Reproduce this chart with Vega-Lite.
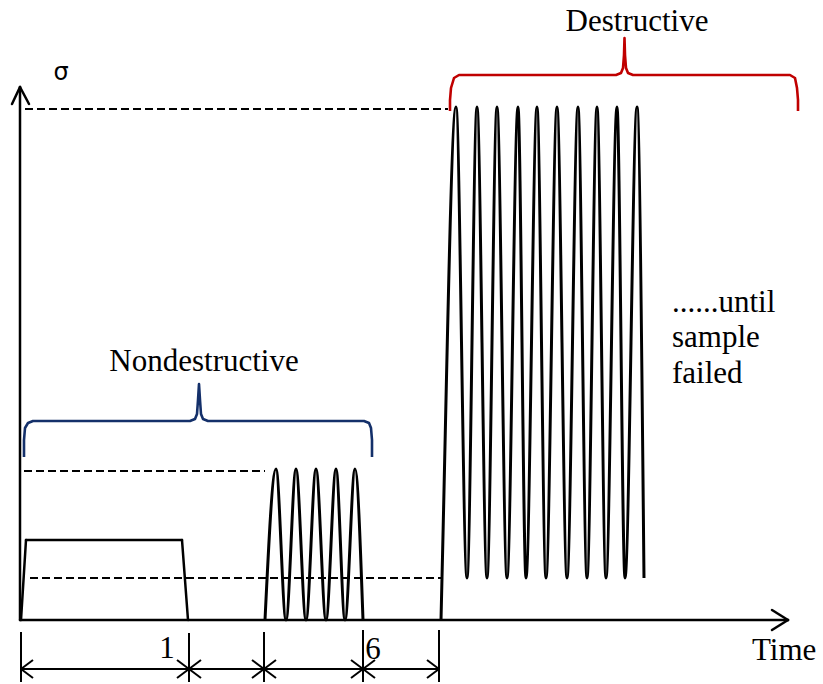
{
  "$schema": "https://vega.github.io/schema/vega-lite/v6.json",
  "width": 823,
  "height": 684,
  "autosize": {"type": "fit", "contains": "padding"},
  "padding": 0,
  "background": "white",
  "config": {"view": {"stroke": null}},
  "datasets": {
    "solid": [
      {"x": 20, "y": 0, "x2": 20, "y2": 533},
      {"x": 20, "y": 533, "x2": 12, "y2": 516},
      {"x": 20, "y": 533, "x2": 29, "y2": 516},
      {"x": 20, "y": 0, "x2": 788, "y2": 0},
      {"x": 788, "y": 0, "x2": 772, "y2": 10},
      {"x": 788, "y": 0, "x2": 772, "y2": -10},
      {"x": 21, "y": 0, "x2": 26, "y2": 80},
      {"x": 26, "y": 80, "x2": 182, "y2": 80},
      {"x": 182, "y": 80, "x2": 188, "y2": 0}
    ],
    "dims": [
      {"x": 21, "y": -12, "x2": 21, "y2": -62},
      {"x": 189, "y": -13, "x2": 189, "y2": -62},
      {"x": 264, "y": -12, "x2": 264, "y2": -62},
      {"x": 363, "y": -10, "x2": 363, "y2": -62},
      {"x": 439, "y": -10, "x2": 439, "y2": -62},
      {"x": 21, "y": -49, "x2": 439, "y2": -49},
      {"x": 21, "y": -49, "x2": 33, "y2": -40},
      {"x": 21, "y": -49, "x2": 33, "y2": -58},
      {"x": 189, "y": -49, "x2": 177, "y2": -40},
      {"x": 189, "y": -49, "x2": 177, "y2": -58},
      {"x": 189, "y": -49, "x2": 201, "y2": -40},
      {"x": 189, "y": -49, "x2": 201, "y2": -58},
      {"x": 264, "y": -49, "x2": 252, "y2": -40},
      {"x": 264, "y": -49, "x2": 252, "y2": -58},
      {"x": 264, "y": -49, "x2": 276, "y2": -40},
      {"x": 264, "y": -49, "x2": 276, "y2": -58},
      {"x": 363, "y": -49, "x2": 351, "y2": -40},
      {"x": 363, "y": -49, "x2": 351, "y2": -58},
      {"x": 363, "y": -49, "x2": 375, "y2": -40},
      {"x": 363, "y": -49, "x2": 375, "y2": -58},
      {"x": 439, "y": -49, "x2": 427, "y2": -40},
      {"x": 439, "y": -49, "x2": 427, "y2": -58}
    ],
    "dashed": [
      {"x": 25, "y": 511, "x2": 448, "y2": 511},
      {"x": 24, "y": 149, "x2": 265, "y2": 149},
      {"x": 30, "y": 42, "x2": 441, "y2": 42}
    ],
    "waves": [
      {"series": "block", "x": 265, "y": 0},
      {"series": "block", "x": 276, "y": 151},
      {"series": "block", "x": 286, "y": 0},
      {"series": "block", "x": 296, "y": 151},
      {"series": "block", "x": 306, "y": 0},
      {"series": "block", "x": 316, "y": 151},
      {"series": "block", "x": 326, "y": 0},
      {"series": "block", "x": 336, "y": 151},
      {"series": "block", "x": 345, "y": 0},
      {"series": "block", "x": 355, "y": 151},
      {"series": "block", "x": 363, "y": 0},
      {"series": "destructive", "x": 441, "y": 0},
      {"series": "destructive", "x": 442, "y": 42},
      {"series": "destructive", "x": 456, "y": 513},
      {"series": "destructive", "x": 467, "y": 42},
      {"series": "destructive", "x": 477, "y": 513},
      {"series": "destructive", "x": 487, "y": 42},
      {"series": "destructive", "x": 497, "y": 513},
      {"series": "destructive", "x": 507, "y": 42},
      {"series": "destructive", "x": 518, "y": 513},
      {"series": "destructive", "x": 526, "y": 42},
      {"series": "destructive", "x": 537, "y": 513},
      {"series": "destructive", "x": 546, "y": 42},
      {"series": "destructive", "x": 557, "y": 513},
      {"series": "destructive", "x": 567, "y": 42},
      {"series": "destructive", "x": 578, "y": 513},
      {"series": "destructive", "x": 587, "y": 42},
      {"series": "destructive", "x": 597, "y": 513},
      {"series": "destructive", "x": 606, "y": 42},
      {"series": "destructive", "x": 617, "y": 513},
      {"series": "destructive", "x": 625, "y": 42},
      {"series": "destructive", "x": 637, "y": 513},
      {"series": "destructive", "x": 644, "y": 42}
    ],
    "braces": [
      {"group": "Nondestructive", "i": 1, "x": 24, "y": 163},
      {"group": "Nondestructive", "i": 2, "x": 24, "y": 180},
      {"group": "Nondestructive", "i": 3, "x": 25, "y": 192},
      {"group": "Nondestructive", "i": 4, "x": 28, "y": 197},
      {"group": "Nondestructive", "i": 5, "x": 33, "y": 199},
      {"group": "Nondestructive", "i": 6, "x": 190, "y": 199},
      {"group": "Nondestructive", "i": 7, "x": 195, "y": 201},
      {"group": "Nondestructive", "i": 8, "x": 197, "y": 206},
      {"group": "Nondestructive", "i": 9, "x": 198, "y": 220},
      {"group": "Nondestructive", "i": 10, "x": 199, "y": 236},
      {"group": "Nondestructive", "i": 11, "x": 200, "y": 220},
      {"group": "Nondestructive", "i": 12, "x": 201, "y": 206},
      {"group": "Nondestructive", "i": 13, "x": 203, "y": 201},
      {"group": "Nondestructive", "i": 14, "x": 208, "y": 199},
      {"group": "Nondestructive", "i": 15, "x": 364, "y": 199},
      {"group": "Nondestructive", "i": 16, "x": 369, "y": 197},
      {"group": "Nondestructive", "i": 17, "x": 371, "y": 192},
      {"group": "Nondestructive", "i": 18, "x": 372, "y": 180},
      {"group": "Nondestructive", "i": 19, "x": 372, "y": 163},
      {"group": "Destructive", "i": 1, "x": 450, "y": 509},
      {"group": "Destructive", "i": 2, "x": 450, "y": 520},
      {"group": "Destructive", "i": 3, "x": 451, "y": 532},
      {"group": "Destructive", "i": 4, "x": 454, "y": 542},
      {"group": "Destructive", "i": 5, "x": 459, "y": 545},
      {"group": "Destructive", "i": 6, "x": 616, "y": 545},
      {"group": "Destructive", "i": 7, "x": 621, "y": 547},
      {"group": "Destructive", "i": 8, "x": 623, "y": 552},
      {"group": "Destructive", "i": 9, "x": 624, "y": 565},
      {"group": "Destructive", "i": 10, "x": 624.5, "y": 582},
      {"group": "Destructive", "i": 11, "x": 625, "y": 565},
      {"group": "Destructive", "i": 12, "x": 626, "y": 552},
      {"group": "Destructive", "i": 13, "x": 628, "y": 547},
      {"group": "Destructive", "i": 14, "x": 633, "y": 545},
      {"group": "Destructive", "i": 15, "x": 790, "y": 545},
      {"group": "Destructive", "i": 16, "x": 795, "y": 542},
      {"group": "Destructive", "i": 17, "x": 797, "y": 532},
      {"group": "Destructive", "i": 18, "x": 798, "y": 520},
      {"group": "Destructive", "i": 19, "x": 798, "y": 509}
    ],
    "centered": [
      {"label": "Destructive", "x": 637, "y": 589},
      {"label": "Nondestructive", "x": 204, "y": 249},
      {"label": "1", "x": 167, "y": -38},
      {"label": "6", "x": 373, "y": -39}
    ],
    "leftText": [
      {"label": "Time", "x": 752, "y": -40},
      {"label": "......until", "x": 672, "y": 308},
      {"label": "sample", "x": 672, "y": 273},
      {"label": "failed", "x": 672, "y": 237}
    ],
    "symbol": [
      {"label": "σ", "x": 61, "y": 540}
    ]
  },
  "encoding": {
    "x": {"field": "x", "type": "quantitative", "scale": {"domain": [0, 823], "nice": false, "zero": false}, "axis": null},
    "y": {"field": "y", "type": "quantitative", "scale": {"domain": [-64, 620], "nice": false, "zero": false}, "axis": null}
  },
  "layer": [
    {
      "data": {"name": "dashed"},
      "mark": {"type": "rule", "color": "black", "strokeWidth": 2, "strokeDash": [8, 4]},
      "encoding": {"x2": {"field": "x2"}, "y2": {"field": "y2"}}
    },
    {
      "data": {"name": "solid"},
      "mark": {"type": "rule", "color": "black", "strokeWidth": 2.5, "strokeCap": "round"},
      "encoding": {"x2": {"field": "x2"}, "y2": {"field": "y2"}}
    },
    {
      "data": {"name": "dims"},
      "mark": {"type": "rule", "color": "black", "strokeWidth": 2},
      "encoding": {"x2": {"field": "x2"}, "y2": {"field": "y2"}}
    },
    {
      "data": {"name": "waves"},
      "mark": {"type": "line", "color": "black", "strokeWidth": 3, "interpolate": "monotone", "strokeJoin": "round"},
      "encoding": {"detail": {"field": "series"}}
    },
    {
      "data": {"name": "braces"},
      "mark": {"type": "line", "strokeWidth": 2.6, "interpolate": "linear", "strokeJoin": "round"},
      "encoding": {
        "detail": {"field": "group"},
        "order": {"field": "i", "type": "quantitative"},
        "color": {"field": "group", "type": "nominal", "scale": {"domain": ["Nondestructive", "Destructive"], "range": ["#14306A", "#C00000"]}, "legend": null}
      }
    },
    {
      "data": {"name": "centered"},
      "mark": {"type": "text", "font": "Liberation Serif", "fontSize": 31, "align": "center", "baseline": "alphabetic", "color": "black"},
      "encoding": {"text": {"field": "label"}}
    },
    {
      "data": {"name": "leftText"},
      "mark": {"type": "text", "font": "Liberation Serif", "fontSize": 31, "align": "left", "baseline": "alphabetic", "color": "black"},
      "encoding": {"text": {"field": "label"}}
    },
    {
      "data": {"name": "symbol"},
      "mark": {"type": "text", "font": "DejaVu Sans", "fontSize": 24, "align": "center", "baseline": "alphabetic", "color": "black"},
      "encoding": {"text": {"field": "label"}}
    }
  ]
}
